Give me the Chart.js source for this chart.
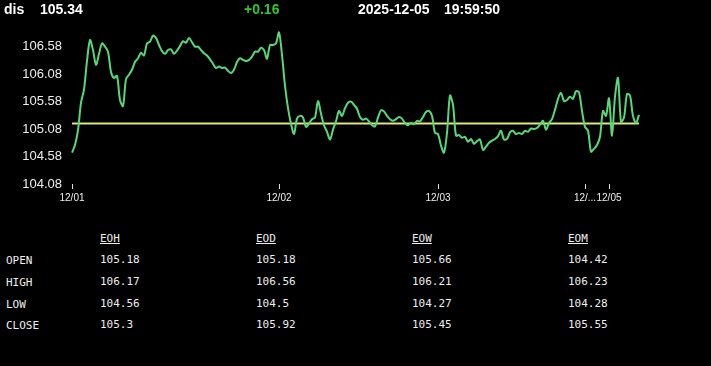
<!DOCTYPE html>
<html>
<head>
<meta charset="utf-8">
<script src="https://cdn.jsdelivr.net/npm/chart.js@4.4.1/dist/chart.umd.min.js"></script>
<style>
  html, body { margin:0; padding:0; background:#000; }
  body { width:711px; height:366px; overflow:hidden; position:relative; font-family:"Liberation Sans", Arial, sans-serif; }
  .hd { position:absolute; top:0; font-weight:bold; font-size:14px; line-height:19px; color:#fff; white-space:nowrap; }
  #chartBox { position:absolute; left:0; top:0; width:711px; height:212px; }
  .tb { position:absolute; font-family:"DejaVu Sans Mono", monospace; font-size:11px; color:#eee; white-space:nowrap; line-height:14px; }
  .tb.h { text-decoration:underline; }
</style>
</head>
<body>
<div id="chartBox"><canvas id="c"></canvas></div>
<div id="header"></div>
<div id="table"></div>
<script>
// ---------- header data ----------
const symbol = 'dis';
const lastPrice = '105.34';
const change = '+0.16';
const dateStr = '2025-12-05';
const timeStr = '19:59:50';

// ---------- table data ----------
const rowNames = ['OPEN', 'HIGH', 'LOW', 'CLOSE'];
const colNames = ['EOH', 'EOD', 'EOW', 'EOM'];
const eohVals = [105.18, 106.17, 104.56, 105.3];
const eodVals = [105.18, 106.56, 104.5, 105.92];
const eowVals = [105.66, 106.21, 104.27, 105.45];
const eomVals = [104.42, 106.23, 104.28, 105.55];

// ---------- chart data ----------
const dayLabels = ['12/01', '12/02', '12/03', '12/...', '12/05'];
const dayStartIndex = [0, 69, 122, 171, 179];
const yTickValues = [104.08, 104.58, 105.08, 105.58, 106.08, 106.58];
const prices = [
  104.65,104.79,105.06,105.56,105.80,106.32,106.70,106.52,106.25,106.45,
  106.64,106.58,106.49,106.12,106.01,106.05,105.61,105.50,105.99,106.07,
  106.16,106.30,106.37,106.47,106.42,106.64,106.67,106.78,106.74,106.61,
  106.50,106.45,106.52,106.53,106.45,106.51,106.59,106.68,106.65,106.74,
  106.66,106.58,106.58,106.52,106.46,106.42,106.35,106.27,106.19,106.22,
  106.19,106.20,106.14,106.10,106.16,106.30,106.37,106.34,106.32,106.34,
  106.40,106.49,106.49,106.56,106.52,106.36,106.61,106.61,106.64,106.84,
  106.43,105.87,105.46,105.18,104.99,105.27,105.32,105.29,105.12,105.18,
  105.26,105.29,105.59,105.36,105.15,105.03,104.89,105.07,105.22,105.41,
  105.32,105.46,105.56,105.58,105.52,105.45,105.30,105.25,105.27,105.22,
  105.15,105.13,105.29,105.42,105.40,105.32,105.26,105.23,105.26,105.30,
  105.27,105.19,105.15,105.19,105.17,105.23,105.22,105.30,105.39,105.41,
  105.32,105.01,104.99,104.78,104.65,105.01,105.69,105.52,104.96,104.97,
  104.92,104.94,104.85,104.90,104.81,104.86,104.89,104.70,104.76,104.83,
  104.87,104.90,104.95,105.05,104.89,104.90,105.02,105.05,104.99,105.01,
  104.99,105.05,105.03,105.09,105.08,105.10,105.16,105.23,105.07,105.19,
  105.26,105.43,105.63,105.74,105.59,105.61,105.67,105.63,105.77,105.75,
  105.41,105.12,105.05,104.67,104.72,104.79,104.94,105.41,105.32,105.64,
  104.96,105.67,106.01,105.21,105.29,105.72,105.69,105.32,105.19,105.34
];
const referenceLevel = eodVals[0]; // day open

// ---------- header ----------
const header = document.getElementById('header');
[[symbol, 4, '#fff'], [lastPrice, 40, '#fff'], [change, 244, '#33c633'], [dateStr, 358, '#fff'], [timeStr, 444, '#fff']]
  .forEach(([t, x, c]) => {
    const s = document.createElement('div');
    s.className = 'hd'; s.textContent = t; s.style.left = x + 'px'; s.style.color = c;
    header.appendChild(s);
  });

// ---------- table ----------
const table = document.getElementById('table');
const colX = [100, 256, 412, 568];
const rowY = [253, 275, 297, 318];
const cols = [eohVals, eodVals, eowVals, eomVals];
function addCell(text, x, y, isHead) {
  const d = document.createElement('div');
  d.className = 'tb' + (isHead ? ' h' : '');
  d.textContent = text; d.style.left = x + 'px'; d.style.top = y + 'px';
  table.appendChild(d);
}
colNames.forEach((n, i) => addCell(n, colX[i], 232, true));
rowNames.forEach((r, j) => {
  addCell(r, 6, rowY[j] + 1, false);
  cols.forEach((col, i) => addCell(String(col[j]), colX[i], rowY[j], false));
});

// ---------- chart ----------
const labels = prices.map((_, i) => {
  let d = 0;
  for (let k = 0; k < dayStartIndex.length; k++) if (i >= dayStartIndex[k]) d = k;
  return dayLabels[d];
});

new Chart(document.getElementById('c'), {
  type: 'line',
  data: {
    labels: labels,
    datasets: [
      { data: prices, borderColor: '#58d878', borderWidth: 2, pointRadius: 0, tension: 0.3, fill: false },
      { data: prices.map(() => referenceLevel), borderColor: '#dde67c', borderWidth: 2, pointRadius: 0, tension: 0, fill: false }
    ]
  },
  options: {
    responsive: true,
    maintainAspectRatio: false,
    animation: false,
    events: [],
    layout: { padding: { top: 28, right: 72, left: 0, bottom: 0 } },
    plugins: { legend: { display: false }, tooltip: { enabled: false } },
    scales: {
      x: {
        type: 'category',
        offset: false,
        grid: { display: true, drawOnChartArea: false, drawTicks: true, tickLength: 5, color: '#ddd' },
        border: { display: false },
        afterBuildTicks: (axis) => { axis.ticks = dayStartIndex.map(v => ({ value: v })); },
        afterFit: (axis) => { axis.height = 28; },
        ticks: {
          autoSkip: false, maxRotation: 0, minRotation: 0, padding: 3,
          color: '#eee', font: { family: '"Liberation Sans", Arial, sans-serif', size: 10 },
          callback: function (v) { return this.getLabelForValue(v); }
        }
      },
      y: {
        min: 104.08,
        max: 106.92,
        grid: { display: false, drawTicks: false },
        border: { display: false },
        afterBuildTicks: (axis) => { axis.ticks = yTickValues.map(v => ({ value: v })); },
        afterFit: (axis) => { axis.width = 72; },
        ticks: {
          padding: 10, color: '#eee',
          font: { family: '"Liberation Sans", Arial, sans-serif', size: 13 },
          callback: (v) => v.toFixed(2)
        }
      }
    }
  }
});
</script>
</body>
</html>
